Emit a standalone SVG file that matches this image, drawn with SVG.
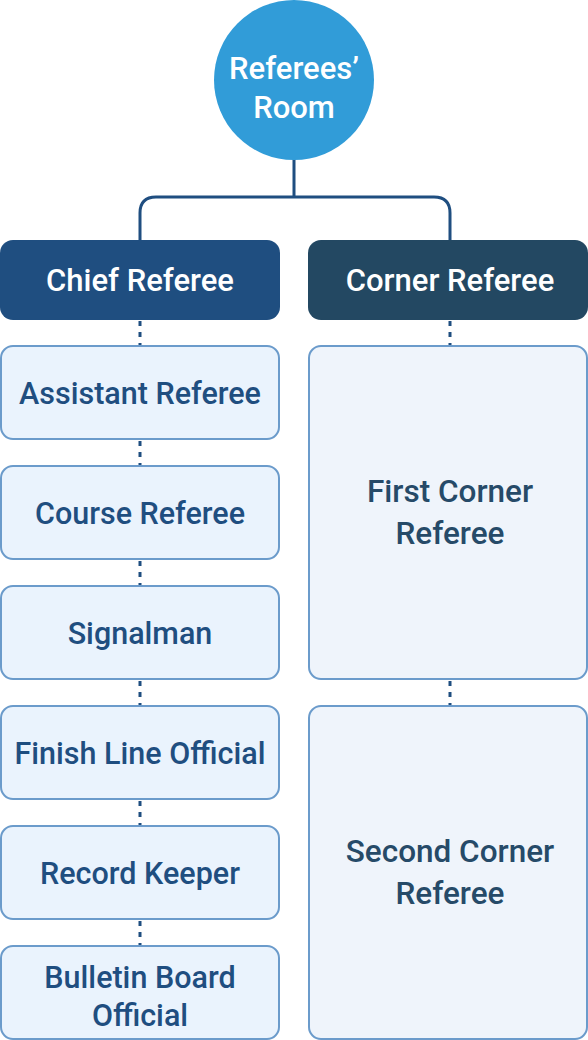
<svg xmlns="http://www.w3.org/2000/svg" width="588" height="1040" viewBox="0 0 588 1040">
<style>
.hd{font-family:Roboto,"Liberation Sans",sans-serif;font-weight:500;font-size:31px;fill:#ffffff;text-anchor:middle}
.lt{font-family:Roboto,"Liberation Sans",sans-serif;font-weight:500;font-size:30.5px;fill:#1F4E80;text-anchor:middle}
.rt{font-family:Roboto,"Liberation Sans",sans-serif;font-weight:500;font-size:31.5px;fill:#264A68;text-anchor:middle}
.box{fill:#EAF3FD;stroke:#6B9BCB;stroke-width:2}
.rbox{fill:#EFF4FB;stroke:#6B9BCB;stroke-width:2}
.solid{fill:none;stroke:#1F4E80;stroke-width:3}
.dash{fill:none;stroke:#1F4E80;stroke-width:3;stroke-dasharray:5 6}
</style>
<g id="connectors">
<path class="solid" d="M294 159 V197 M140 240 V213 Q140 197 156 197 H434 Q450 197 450 213 V240"/>
<path class="dash" d="M140 321 V345 M140 441 V465 M140 561 V585 M140 681 V705 M140 801 V825 M140 921 V945 M450 321 V345 M450 681 V705"/>
</g>
<g id="room">
<circle cx="294" cy="80" r="80" fill="#319CD8"/>
<text class="hd" x="294" y="79">Referees’</text>
<text class="hd" x="294" y="118">Room</text>
</g>
<g id="chief">
<rect x="0" y="240" width="280" height="80" rx="13" fill="#1F4E80"/>
<text class="hd" x="140" y="291">Chief Referee</text>
</g>
<g id="corner">
<rect x="308" y="240" width="280" height="80" rx="13" fill="#234862"/>
<text class="hd" x="450" y="291">Corner Referee</text>
</g>
<g id="assistant">
<rect class="box" x="1" y="346" width="278" height="93" rx="12"/>
<text class="lt" x="140" y="404">Assistant Referee</text>
</g>
<g id="course">
<rect class="box" x="1" y="466" width="278" height="93" rx="12"/>
<text class="lt" x="140" y="524">Course Referee</text>
</g>
<g id="signalman">
<rect class="box" x="1" y="586" width="278" height="93" rx="12"/>
<text class="lt" x="140" y="644">Signalman</text>
</g>
<g id="finish">
<rect class="box" x="1" y="706" width="278" height="93" rx="12"/>
<text class="lt" x="140" y="764">Finish Line Official</text>
</g>
<g id="record">
<rect class="box" x="1" y="826" width="278" height="93" rx="12"/>
<text class="lt" x="140" y="884">Record Keeper</text>
</g>
<g id="bulletin">
<rect class="box" x="1" y="946" width="278" height="93" rx="12"/>
<text class="lt" x="140" y="988">Bulletin Board</text>
<text class="lt" x="140" y="1026">Official</text>
</g>
<g id="first">
<rect class="rbox" x="309" y="346" width="278" height="333" rx="12"/>
<text class="rt" x="450" y="502">First Corner</text>
<text class="rt" x="450" y="544">Referee</text>
</g>
<g id="second">
<rect class="rbox" x="309" y="706" width="278" height="333" rx="12"/>
<text class="rt" x="450" y="862">Second Corner</text>
<text class="rt" x="450" y="904">Referee</text>
</g>
</svg>
